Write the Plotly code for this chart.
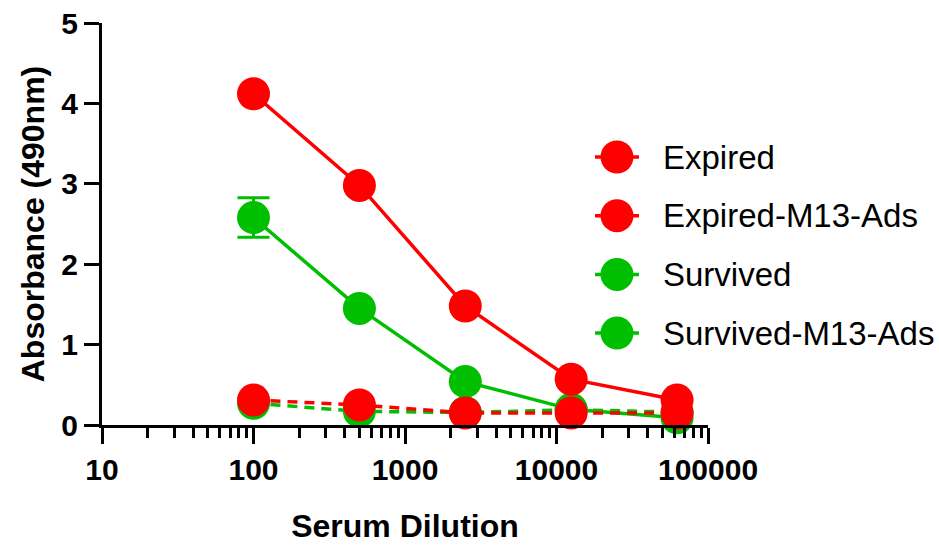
import plotly.graph_objects as go

# ---- data ----
dilution = [100, 500, 2500, 12500, 62500]
expired = [4.12, 2.98, 1.48, 0.57, 0.31]
expired_m13 = [0.31, 0.25, 0.15, 0.15, 0.15]
survived = [2.58, 1.45, 0.54, 0.195, 0.09]
survived_err = [0.245, 0.0, 0.0, 0.0, 0.0]
survived_m13 = [0.27, 0.17, 0.155, 0.19, 0.16]

series_names = ["Expired", "Expired-M13-Ads", "Survived", "Survived-M13-Ads"]
series_values = [expired, expired_m13, survived, survived_m13]
series_err = [None, None, survived_err, None]
RED = "#FF0000"
GREEN = "#00BF00"
series_colors = [RED, RED, GREEN, GREEN]
series_dash = ["solid", "10px,7px", "solid", "10px,7px"]

x_ticks = [10, 100, 1000, 10000, 100000]
x_ticklabels = ["10", "100", "1000", "10000", "100000"]
y_ticks = [0, 1, 2, 3, 4, 5]

MSIZE = 33
LW = 3.5

fig = go.Figure()

# draw green first so red sits on top
draw_order = [3, 2, 1, 0]
for i in draw_order:
    err = None
    if series_err[i] is not None:
        err = dict(type="data", array=series_err[i], visible=True,
                   color=series_colors[i], thickness=3, width=16)
    fig.add_trace(go.Scatter(
        x=dilution, y=series_values[i], name=series_names[i],
        mode="lines+markers",
        line=dict(color=series_colors[i], width=LW, dash=series_dash[i]),
        marker=dict(color=series_colors[i], size=MSIZE, line=dict(width=0)),
        error_y=err, cliponaxis=False, showlegend=False,
    ))

# manual legend (large symbols like the original)
LEGEND_TEXT_X = 0.9225  # paper x of legend labels
for k, name in enumerate(series_names):
    fig.add_trace(go.Scatter(
        x=[-1, 1], y=[k, k], xaxis="x2", yaxis="y2", mode="lines",
        line=dict(color=series_colors[k], width=LW, dash="solid"),
        showlegend=False, hoverinfo="skip", cliponaxis=False,
    ))
    fig.add_trace(go.Scatter(
        x=[0], y=[k], xaxis="x2", yaxis="y2", mode="markers",
        marker=dict(color=series_colors[k], size=MSIZE, line=dict(width=0)),
        showlegend=False, cliponaxis=False,
    ))
    fig.add_annotation(
        x=LEGEND_TEXT_X, y=k, xref="paper", yref="y2", text=name, showarrow=False,
        xanchor="left", yanchor="middle",
        font=dict(family="Liberation Sans", size=33, color="black"),
    )

axis_font = dict(family="Liberation Sans", size=30, color="black", weight="bold")
title_font = dict(family="Liberation Sans", size=32, color="black", weight="bold")

hidden_axis = dict(showline=False, showticklabels=False, showgrid=False,
                   zeroline=False, ticks="", fixedrange=True)

fig.update_layout(
    width=939, height=548,
    margin=dict(l=102, r=231, t=23, b=123, autoexpand=False),
    paper_bgcolor="white", plot_bgcolor="rgba(0,0,0,0)",
    showlegend=False,
    xaxis=dict(
        type="log", range=[1, 5], automargin=False,
        tickvals=x_ticks, ticktext=x_ticklabels,
        ticks="outside", ticklen=16, tickwidth=3, tickcolor="black",
        showline=True, linewidth=3, linecolor="black",
        showgrid=False, zeroline=False,
        tickfont=axis_font,
        minor=dict(ticks="outside", ticklen=10, tickwidth=3, tickcolor="black",
                   dtick="D1", showgrid=False),
        title=dict(text="Serum Dilution", font=title_font, standoff=30),
    ),
    yaxis=dict(
        range=[0, 5], tickvals=y_ticks, automargin=False,
        ticks="outside", ticklen=15, tickwidth=3, tickcolor="black",
        showline=True, linewidth=3, linecolor="black",
        showgrid=False, zeroline=False,
        tickfont=axis_font, ticklabelstandoff=0,
        title=dict(text="Absorbance (490nm)", font=title_font, standoff=8),
    ),
    xaxis2=dict(domain=[0.8135, 0.8861], range=[-1, 1], anchor="y2", **hidden_axis),
    yaxis2=dict(domain=[0, 1], range=[4.566, -2.283], anchor="x2", **hidden_axis),
)

fig.write_html("out.html")
